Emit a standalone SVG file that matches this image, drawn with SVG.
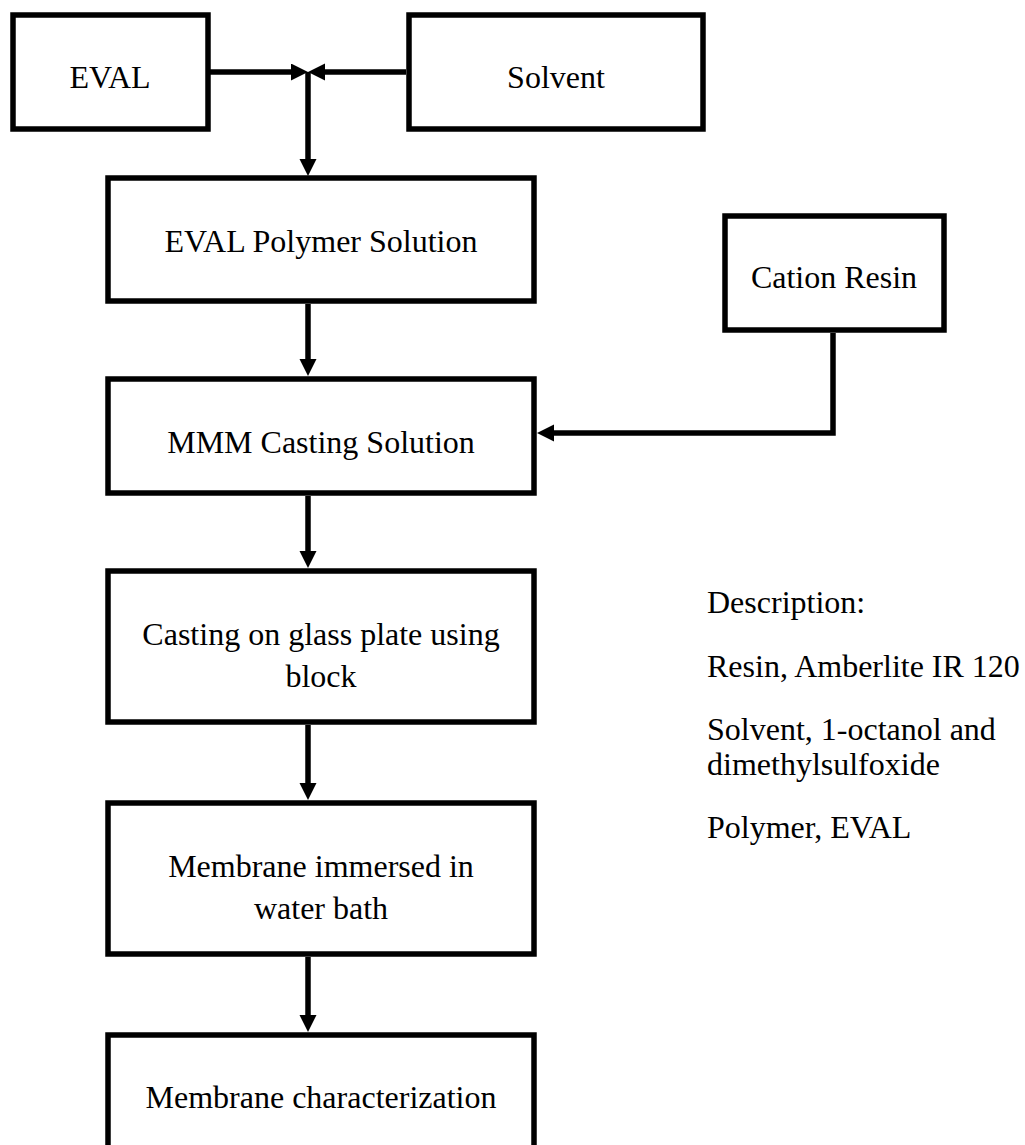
<svg xmlns="http://www.w3.org/2000/svg" width="1025" height="1145" viewBox="0 0 1025 1145">
<style>
.box{fill:#fff;stroke:#000;stroke-width:5.5}
.lbl{font-family:"Liberation Serif","Times New Roman",serif;font-size:32px;fill:#000}
.c{text-anchor:middle}
.con{fill:none;stroke:#000;stroke-width:5.5}
</style>
<defs>
<marker id="ah" markerUnits="userSpaceOnUse" markerWidth="18" markerHeight="18" refX="7" refY="8.5" orient="auto">
<path d="M0,0 L17,8.5 L0,17 z" fill="#000"/>
</marker>
</defs>
<rect width="1025" height="1145" fill="#fff"/>
<g id="connectors">
<path class="con" d="M210,72 L298,72" marker-end="url(#ah)"/>
<path class="con" d="M406,72 L318,72" marker-end="url(#ah)"/>
<path class="con" d="M308,72 L308,166" marker-end="url(#ah)"/>
<path class="con" d="M308,304 L308,366" marker-end="url(#ah)"/>
<path class="con" d="M308,496 L308,558" marker-end="url(#ah)"/>
<path class="con" d="M308,725 L308,790" marker-end="url(#ah)"/>
<path class="con" d="M308,957 L308,1022" marker-end="url(#ah)"/>
<path class="con" d="M833,333 L833,433 L547,433" marker-end="url(#ah)"/>
</g>
<g id="eval">
<rect class="box" x="13" y="15" width="195" height="114"/>
<text class="lbl c" x="110" y="88">EVAL</text>
</g>
<g id="solvent">
<rect class="box" x="409" y="15" width="294" height="114"/>
<text class="lbl c" x="556" y="88">Solvent</text>
</g>
<g id="eval-polymer-solution">
<rect class="box" x="108" y="178" width="426" height="123"/>
<text class="lbl c" x="321" y="252">EVAL Polymer Solution</text>
</g>
<g id="cation-resin">
<rect class="box" x="725" y="216" width="219" height="114"/>
<text class="lbl c" x="834" y="288">Cation Resin</text>
</g>
<g id="mmm-casting-solution">
<rect class="box" x="108" y="379" width="426" height="114"/>
<text class="lbl c" x="321" y="453">MMM Casting Solution</text>
</g>
<g id="casting">
<rect class="box" x="108" y="571" width="426" height="151"/>
<text class="lbl c" x="321" y="645">Casting on glass plate using</text>
<text class="lbl c" x="321" y="687">block</text>
</g>
<g id="immersed">
<rect class="box" x="108" y="803" width="426" height="151"/>
<text class="lbl c" x="321" y="877">Membrane immersed in</text>
<text class="lbl c" x="321" y="919">water bath</text>
</g>
<g id="characterization">
<rect class="box" x="108" y="1035" width="426" height="200"/>
<text class="lbl c" x="321" y="1108">Membrane characterization</text>
</g>
<g id="description">
<text class="lbl" x="707" y="613">Description:</text>
<text class="lbl" x="707" y="677">Resin, Amberlite IR 120</text>
<text class="lbl" x="707" y="740">Solvent, 1-octanol and</text>
<text class="lbl" x="707" y="775">dimethylsulfoxide</text>
<text class="lbl" x="707" y="838">Polymer, EVAL</text>
</g>
</svg>
